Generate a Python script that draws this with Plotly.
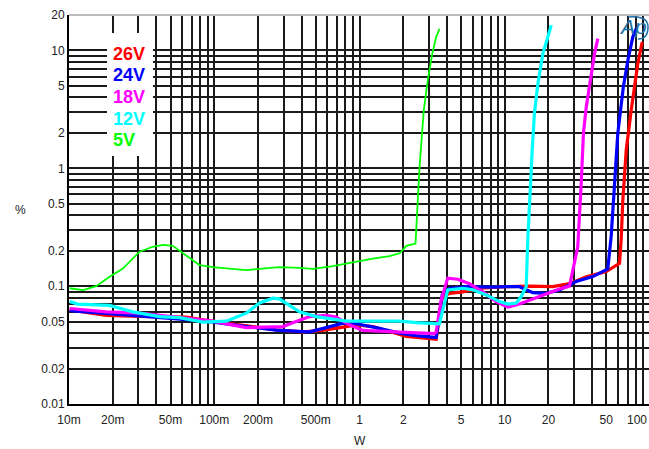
import plotly.graph_objects as go

# THD+N (%) versus output power (W) at five supply voltages
w_26v = [0.0101, 0.018, 0.0306, 0.0641, 0.088, 0.166, 0.267, 0.407, 0.559, 0.81, 0.949, 1.235,
         2.097, 3.196, 3.373, 3.71, 4.16, 5.14, 6.70, 10.23, 14.8, 21.4, 27.9, 36.4, 49.9,
         61.7, 63.3, 65.0, 68.6, 74.2, 78.2, 82.4, 88.4]
thd_26v = [0.063, 0.0565, 0.0555, 0.0546, 0.0513, 0.046, 0.0425, 0.041, 0.0421, 0.0454, 0.047, 0.0454,
           0.0375, 0.0357, 0.0354, 0.080, 0.087, 0.0895, 0.096, 0.099, 0.1, 0.099, 0.105, 0.12, 0.133,
           0.156, 0.25, 0.54, 1.43, 3.11, 5.2, 7.74, 11.8]

w_24v = [0.0101, 0.018, 0.0306, 0.0518, 0.088, 0.166, 0.267, 0.407, 0.4527, 0.59, 0.767, 0.949,
         1.30, 1.886, 2.457, 3.285, 3.373, 3.71, 4.16, 5.43, 6.70, 8.27, 10.23, 12.63, 15.6, 19.3,
         23.8, 31.0, 40.4, 51.2, 54.1, 57.0, 60.0, 65.5, 70.4, 76.1, 80.4]
thd_24v = [0.062, 0.0589, 0.056, 0.0535, 0.0505, 0.0454, 0.0423, 0.0412, 0.041, 0.0445, 0.0485, 0.048,
           0.0445, 0.0399, 0.038, 0.0368, 0.0368, 0.0843, 0.096, 0.099, 0.098, 0.098, 0.099, 0.099,
           0.088, 0.087, 0.093, 0.1095, 0.1205, 0.14, 0.27, 0.745, 1.98, 4.9, 8.26, 13.0, 15.3]

w_18v = [0.0101, 0.018, 0.0306, 0.0518, 0.0977, 0.166, 0.2965, 0.3474, 0.4527, 0.59, 0.691, 0.853,
         1.054, 1.61, 2.457, 3.285, 3.373, 3.65, 4.05, 4.75, 5.72, 7.06, 8.73, 10.5, 12.63, 17.35,
         23.8, 27.9, 30.2, 31.8, 33.6, 34.8, 36.4, 39.4, 41.5, 43.7]
thd_18v = [0.0646, 0.0605, 0.059, 0.0552, 0.0505, 0.0445, 0.0454, 0.049, 0.0552, 0.0566, 0.0546, 0.047,
           0.0421, 0.0412, 0.0399, 0.0395, 0.041, 0.0764, 0.117, 0.1145, 0.105, 0.0895, 0.074, 0.0665,
           0.0705, 0.082, 0.0945, 0.1, 0.156, 0.215, 0.745, 1.98, 3.32, 6.37, 9.4, 12.6]

w_12v = [0.0101, 0.0115, 0.019, 0.0275, 0.042, 0.0576, 0.0834, 0.121, 0.166, 0.205, 0.253, 0.281,
         0.386, 0.503, 0.81, 1.30, 1.886, 2.457, 3.46, 3.55, 4.05, 5.14, 6.03, 7.45, 9.2, 10.5, 12.0,
         13.0, 14.05, 14.4, 15.45, 16.0, 16.9, 18.3, 19.8, 20.9]
thd_12v = [0.074, 0.0705, 0.0687, 0.0605, 0.0552, 0.054, 0.0496, 0.0505, 0.059, 0.072, 0.079, 0.078,
           0.0605, 0.0552, 0.0505, 0.0505, 0.0505, 0.049, 0.0475, 0.0478, 0.093, 0.096, 0.093, 0.0843,
           0.074, 0.0705, 0.072, 0.082, 0.099, 0.246, 1.43, 2.92, 5.2, 9.4, 13.0, 16.4]

w_5v = [0.0101, 0.0125, 0.0154, 0.019, 0.0235, 0.0306, 0.0377, 0.0442, 0.0518, 0.0641, 0.0792,
        0.0977, 0.134, 0.166, 0.205, 0.281, 0.386, 0.477, 0.655, 1.0, 1.235, 1.61, 1.89, 2.10, 2.43,
        2.59, 2.77, 2.95, 3.17, 3.37, 3.55]
thd_5v = [0.096, 0.0925, 0.1, 0.12, 0.141, 0.196, 0.216, 0.224, 0.22, 0.183, 0.151, 0.145, 0.14,
          0.137, 0.14, 0.145, 0.143, 0.14, 0.148, 0.164, 0.171, 0.18, 0.19, 0.22, 0.23, 1.03, 3.1,
          5.6, 9.4, 13.0, 15.3]

series = [
    ("26V", w_26v, thd_26v, "#ff0000", 3.2),
    ("24V", w_24v, thd_24v, "#0000ff", 3.2),
    ("18V", w_18v, thd_18v, "#ff00ff", 3.2),
    ("12V", w_12v, thd_12v, "#00ffff", 3.2),
    ("5V", w_5v, thd_5v, "#00ff00", 1.8),
]

# grid positions (every 1..9 step in each decade) and the labelled subset
x_grid = [m * 10.0 ** e for e in range(-2, 2) for m in range(1, 10)]
x_labels = {0.01: "10m", 0.02: "20m", 0.05: "50m", 0.1: "100m", 0.2: "200m", 0.5: "500m",
            1: "1", 2: "2", 5: "5", 10: "10", 20: "20", 50: "50"}
y_grid = [m * 10.0 ** e for e in range(-2, 2) for m in range(1, 10)] + [20]
y_labels = {0.01: "0.01", 0.02: "0.02", 0.05: "0.05", 0.1: "0.1", 0.2: "0.2", 0.5: "0.5",
            1: "1", 2: "2", 5: "5", 10: "10", 20: "20"}


def label_for(v, table):
    for k, t in table.items():
        if abs(v - k) / k < 1e-6:
            return t
    return ""


fig = go.Figure()
for name, xs, ys, col, lw in series:
    fig.add_trace(go.Scatter(x=xs, y=ys, mode="lines", name=name,
                             line=dict(color=col, width=lw), showlegend=False))

font_family = "Liberation Sans, Arial, sans-serif"
tick_font = dict(family=font_family, size=12, color="#222")
grid_color = "#1a1a1a"

fig.update_xaxes(type="log", range=[-2, 1.993], tickvals=x_grid,
                 ticktext=[label_for(v, x_labels) for v in x_grid],
                 showgrid=True, gridcolor=grid_color, gridwidth=1.5, zeroline=False,
                 showline=True, linecolor="#000", linewidth=2, ticks="",
                 ticklabelstandoff=4, tickfont=tick_font)
fig.update_yaxes(type="log", range=[-2, 1.30103], tickvals=y_grid,
                 ticktext=[label_for(v, y_labels) for v in y_grid],
                 showgrid=True, gridcolor=grid_color, gridwidth=1.5, zeroline=False,
                 showline=True, linecolor="#000", linewidth=2, ticks="",
                 tickfont=tick_font)

annotations = [
    dict(text="%", x=-0.0966, y=0.5, xref="paper", yref="paper", showarrow=False,
         yanchor="middle", font=dict(family=font_family, size=12, color="#222")),
    dict(text="W", x=0.5017, y=-0.095, xref="paper", yref="paper", showarrow=False,
         yanchor="middle", font=dict(family=font_family, size=12, color="#222")),
    dict(text="100", x=1.0, y=-0.040, xref="paper", yref="paper", showarrow=False,
         xanchor="right", yanchor="middle", font=tick_font),
    dict(text="<i>Ap</i>", x=0.972, y=0.970, xref="paper", yref="paper", showarrow=False,
         xanchor="center", yanchor="middle",
         font=dict(family=font_family, size=21, color="#1f6fa6")),
]
legend_y = [0.8997, 0.8445, 0.789, 0.7326, 0.6794]
for (name, _, _, col, _), ly in zip(series, legend_y):
    annotations.append(dict(text="<b>%s</b>" % name, x=0.0724, y=ly, xref="paper", yref="paper",
                            xanchor="left", yanchor="middle", showarrow=False,
                            font=dict(family=font_family, size=18, color=col)))

shapes = [
    # white panel behind the voltage labels
    dict(type="rect", xref="paper", yref="paper", x0=0.0655, x1=0.1448, y0=0.6375, y1=0.9537,
         fillcolor="white", line=dict(width=0), layer="above"),
    # light frame line along the top of the plot
    dict(type="line", xref="paper", yref="paper", x0=0, x1=1, y0=1, y1=1,
         line=dict(color="#bbbbbb", width=2)),
    # swoosh of the logo
    dict(type="path", xref="paper", yref="paper",
         path="M 0.9638 0.9949 Q 0.9983 1.0 0.9983 0.9692 Q 0.9983 0.9383 0.9810 0.9383",
         line=dict(color="#1f6fa6", width=1.5)),
]

fig.update_layout(width=649, height=449, margin=dict(l=69, r=0, t=15, b=45),
                  paper_bgcolor="white", plot_bgcolor="white",
                  annotations=annotations, shapes=shapes)

fig.write_html("out.html")
